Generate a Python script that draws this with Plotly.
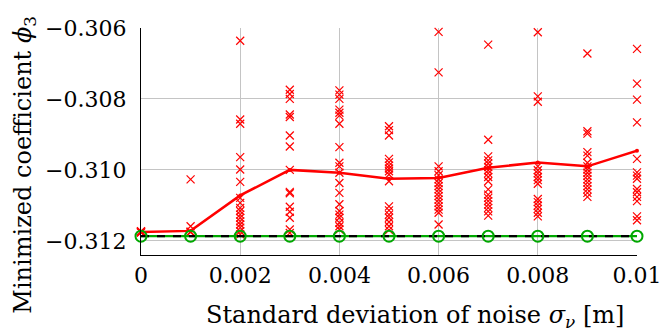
import plotly.graph_objects as go

noise_std = [0.0, 0.001, 0.002, 0.003, 0.004, 0.005, 0.006, 0.007, 0.008, 0.009, 0.01]

runs_0000 = [-0.31175, -0.31174, -0.31176, -0.31173, -0.31177]
runs_0001 = [-0.31027, -0.31159, -0.31174, -0.31176, -0.31175]
runs_0002 = [-0.30636, -0.30858, -0.30870, -0.30964, -0.30999, -0.31034, -0.31079, -0.31093,
             -0.31107, -0.31116, -0.31126, -0.31135, -0.31145, -0.31154, -0.31163, -0.31173, -0.31182]
runs_0003 = [-0.30774, -0.30786, -0.30800, -0.30844, -0.30851, -0.30903, -0.30934, -0.31000,
             -0.31062, -0.31066, -0.31104, -0.31118, -0.31135, -0.31168, -0.31178]
runs_0004 = [-0.30776, -0.30788, -0.30800, -0.30830, -0.30839, -0.30847, -0.30870, -0.30936,
             -0.30980, -0.30990, -0.31008, -0.31037, -0.31065, -0.31097, -0.31116, -0.31126,
             -0.31135, -0.31149, -0.31159, -0.31168]
runs_0005 = [-0.30877, -0.30888, -0.30903, -0.30969, -0.30979, -0.30988, -0.30996, -0.31004,
             -0.31013, -0.31032, -0.31103, -0.31114, -0.31126, -0.31135, -0.31147, -0.31159, -0.31170]
runs_0006 = [-0.30611, -0.30725, -0.30990, -0.31004, -0.31015, -0.31027, -0.31037, -0.31046,
             -0.31055, -0.31065, -0.31074, -0.31084, -0.31093, -0.31103, -0.31112, -0.31121, -0.31154]
runs_0007 = [-0.30647, -0.30915, -0.30962, -0.30973, -0.30982, -0.30992, -0.31001, -0.31010,
             -0.31020, -0.31032, -0.31055, -0.31070, -0.31079, -0.31088, -0.31098, -0.31107,
             -0.31117, -0.31129]
runs_0008 = [-0.30612, -0.30793, -0.30808, -0.30990, -0.31001, -0.31010, -0.31020, -0.31029,
             -0.31039, -0.31082, -0.31091, -0.31101, -0.31110, -0.31121, -0.31131]
runs_0009 = [-0.30672, -0.30891, -0.30898, -0.30950, -0.30960, -0.30980, -0.30990, -0.30999,
             -0.31008, -0.31017, -0.31027, -0.31036, -0.31046, -0.31055, -0.31065, -0.31076]
runs_0010 = [-0.30659, -0.30757, -0.30802, -0.30866, -0.30969, -0.31007, -0.31016, -0.31025,
             -0.31054, -0.31063, -0.31076, -0.31088, -0.31131, -0.31142]

mean_values = [-0.31175, -0.31172, -0.31072, -0.31000, -0.31008, -0.31025, -0.31023,
               -0.30994, -0.30979, -0.30990, -0.30946]
reference_values = [-0.31187, -0.31187, -0.31187, -0.31187, -0.31187, -0.31187, -0.31187,
                    -0.31187, -0.31187, -0.31187, -0.31187]

x_tickvals = [0, 0.002, 0.004, 0.006, 0.008, 0.01]
x_ticktext = ["0", "0.002", "0.004", "0.006", "0.008", "0.01"]
y_tickvals = [-0.312, -0.310, -0.308, -0.306]
y_ticktext = ["\u22120.312", "\u22120.310", "\u22120.308", "\u22120.306"]

all_runs = [runs_0000, runs_0001, runs_0002, runs_0003, runs_0004, runs_0005,
            runs_0006, runs_0007, runs_0008, runs_0009, runs_0010]
sx, sy = [], []
for xv, col in zip(noise_std, all_runs):
    for v in col:
        sx.append(xv)
        sy.append(v)

RED = "#ff0000"
GREEN = "#00a800"
FONT = "DejaVu Serif"

fig = go.Figure()
fig.add_trace(go.Scatter(x=sx, y=sy, mode="markers", cliponaxis=False,
                         marker=dict(symbol="x-thin", size=8, line=dict(color=RED, width=1.2))))
fig.add_trace(go.Scatter(x=noise_std, y=mean_values, mode="lines+markers", cliponaxis=False,
                         line=dict(color=RED, width=2.5),
                         marker=dict(color=RED, size=4)))
fig.add_trace(go.Scatter(x=noise_std, y=reference_values, mode="lines",
                         line=dict(color=GREEN, width=2.2)))
fig.add_trace(go.Scatter(x=noise_std, y=reference_values, mode="lines",
                         line=dict(color="black", width=2.2, dash="8px,8px")))
fig.add_trace(go.Scatter(x=noise_std, y=reference_values, mode="markers", cliponaxis=False,
                         marker=dict(symbol="circle-open", size=11, color=GREEN,
                                     line=dict(color=GREEN, width=2))))

fig.update_layout(
    width=660, height=331,
    margin=dict(l=141, r=23, t=28, b=76, autoexpand=False),
    paper_bgcolor="white", plot_bgcolor="white",
    showlegend=False,
    font=dict(family=FONT, size=22, color="black"),
    xaxis=dict(range=[0, 0.01], tickvals=x_tickvals, ticktext=x_ticktext,
               showgrid=True, gridcolor="#c4c4c4", gridwidth=1, zeroline=False,
               showline=True, linecolor="black", linewidth=1.3, mirror=False,
               ticks="", ticklabelstandoff=0, automargin=False,
               ticklabeloverflow="allow"),
    yaxis=dict(range=[-0.3124, -0.306], tickvals=y_tickvals, ticktext=y_ticktext,
               showgrid=True, gridcolor="#c4c4c4", gridwidth=1, zeroline=False,
               showline=True, linecolor="black", linewidth=1.3, mirror=False,
               ticks="", ticklabelstandoff=9, automargin=False,
               ticklabeloverflow="allow"),
    annotations=[
        dict(text="Standard deviation of noise <i>σ</i><sub><i>ν</i></sub> [m]",
             xref="paper", yref="paper", x=0.552, y=-0.272, xanchor="center", yanchor="middle",
             showarrow=False, font=dict(family=FONT, size=24)),
        dict(text="Minimized coefficient <i>\u03d5</i><sub>3</sub>",
             xref="paper", yref="paper", x=-0.235, y=0.40, xanchor="center", yanchor="middle",
             textangle=-90, showarrow=False, font=dict(family=FONT, size=24)),
    ],
)

fig.write_html("out.html", config={"displayModeBar": False},
               post_script="document.body.style.margin='0';")
